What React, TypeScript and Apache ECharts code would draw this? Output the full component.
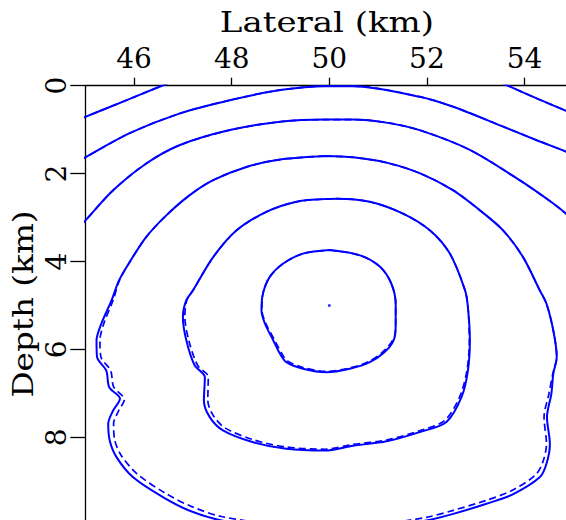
import React, { useEffect, useRef } from "react";
import * as echarts from "echarts";

const xTicks = [46, 48, 50, 52, 54];
const yTicks = [0, 2, 4, 6, 8];
const source = [[50.0, 5.0]];

// contour 1 (innermost)
const c1Solid = [
  [50.01, 3.74], [50.63, 3.86], [51.04, 4.12], [51.27, 4.5], [51.36, 4.96], [51.36, 5.41],
  [51.34, 5.72], [51.17, 6.02], [50.83, 6.29], [50.42, 6.44], [49.94, 6.52], [49.46, 6.44],
  [49.12, 6.29], [48.99, 6.1], [48.85, 5.79], [48.68, 5.41], [48.61, 5.11], [48.64, 4.73],
  [48.78, 4.35], [49.05, 4.05], [49.46, 3.82], [50.01, 3.74],
];
const c1Dashed = [
  [50.01, 3.74], [50.63, 3.86], [51.04, 4.12], [51.27, 4.5], [51.36, 4.96], [51.36, 5.41],
  [51.33, 5.72], [51.15, 6.0], [50.82, 6.27], [50.42, 6.42], [49.94, 6.5], [49.46, 6.41],
  [49.14, 6.26], [49.02, 6.08], [48.88, 5.79], [48.7, 5.41], [48.62, 5.11], [48.64, 4.73],
  [48.78, 4.35], [49.05, 4.05], [49.46, 3.82], [50.01, 3.74],
];

// contour 2
const c2Solid = [
  [49.91, 2.58], [50.15, 2.57], [50.83, 2.64], [51.51, 2.91], [52.06, 3.29], [52.47, 3.82],
  [52.78, 4.65], [52.84, 5.03], [52.88, 5.79], [52.84, 6.48], [52.71, 7.08], [52.4, 7.65],
  [51.85, 7.88], [51.17, 8.09], [50.49, 8.19], [49.91, 8.3], [49.12, 8.26], [48.44, 8.11],
  [47.82, 7.84], [47.55, 7.54], [47.43, 7.16], [47.45, 6.63], [47.24, 6.36], [47.07, 5.79],
  [47.0, 5.26], [47.07, 4.88], [47.21, 4.65], [47.62, 3.9], [48.1, 3.29], [48.71, 2.87],
  [49.33, 2.64], [49.91, 2.58],
];
const c2Dashed = [
  [49.91, 2.58], [50.15, 2.57], [50.83, 2.64], [51.51, 2.91], [52.06, 3.29], [52.47, 3.82],
  [52.78, 4.65], [52.84, 5.03], [52.87, 5.79], [52.82, 6.48], [52.67, 7.08], [52.36, 7.62],
  [51.85, 7.85], [51.17, 8.06], [50.49, 8.16], [49.91, 8.27], [49.12, 8.22], [48.46, 8.06],
  [47.87, 7.79], [47.62, 7.5], [47.51, 7.16], [47.52, 6.63], [47.3, 6.36], [47.12, 5.79],
  [47.04, 5.26], [47.08, 4.88], [47.21, 4.65], [47.62, 3.9], [48.1, 3.29], [48.71, 2.87],
  [49.33, 2.64], [49.91, 2.58],
];

// contour 3 (outer closed, cut by the bottom edge)
const c3Solid = [
  [49.91, 1.6], [50.49, 1.63], [51.17, 1.75], [51.85, 1.99], [52.54, 2.38], [53.08, 2.83],
  [53.56, 3.29], [53.97, 3.9], [54.31, 4.65], [54.45, 4.96], [54.59, 5.57], [54.66, 6.17],
  [54.59, 6.55], [54.55, 7.01], [54.46, 7.54], [54.52, 8.15], [54.45, 8.6], [54.31, 8.91],
  [53.77, 9.29], [53.22, 9.51], [52.54, 9.74], [51.99, 9.89], [51.0, 10.06], [50.0, 10.12],
  [49.0, 10.08], [47.79, 9.89], [47.14, 9.67], [46.59, 9.36], [45.98, 8.91], [45.64, 8.45],
  [45.5, 8.07], [45.47, 7.69], [45.57, 7.39], [45.71, 7.12], [45.49, 6.86], [45.43, 6.48],
  [45.24, 6.17], [45.23, 5.79], [45.33, 5.41], [45.54, 4.88], [45.69, 4.43], [45.91, 4.01],
  [46.25, 3.44], [46.66, 2.95], [47.14, 2.49], [47.62, 2.15], [48.3, 1.85], [48.99, 1.68],
  [49.91, 1.6],
];
const c3Dashed = [
  [49.91, 1.6], [50.49, 1.63], [51.17, 1.75], [51.85, 1.99], [52.54, 2.38], [53.08, 2.83],
  [53.56, 3.29], [53.97, 3.9], [54.31, 4.65], [54.45, 4.96], [54.59, 5.57], [54.66, 6.17],
  [54.58, 6.55], [54.5, 7.01], [54.4, 7.54], [54.45, 8.15], [54.37, 8.58], [54.22, 8.86],
  [53.74, 9.21], [53.2, 9.44], [52.54, 9.66], [51.99, 9.82], [51.0, 9.98], [50.0, 10.05],
  [49.0, 10.0], [47.79, 9.8], [47.17, 9.57], [46.64, 9.27], [46.06, 8.83], [45.73, 8.4],
  [45.6, 8.05], [45.58, 7.69], [45.68, 7.4], [45.8, 7.14], [45.58, 6.85], [45.52, 6.48],
  [45.32, 6.17], [45.3, 5.79], [45.38, 5.41], [45.57, 4.88], [45.7, 4.43], [45.91, 4.01],
  [46.25, 3.44], [46.66, 2.95], [47.14, 2.49], [47.62, 2.15], [48.3, 1.85], [48.99, 1.68],
  [49.91, 1.6],
];

// contour 4
const c4 = [
  [44.9, 3.19], [45.0, 3.07], [45.57, 2.38], [46.25, 1.77], [46.94, 1.35], [47.96, 1.01],
  [48.99, 0.82], [49.91, 0.77], [50.49, 0.77], [51.17, 0.84], [51.85, 1.01], [52.88, 1.46],
  [53.9, 2.15], [54.59, 2.68], [54.85, 2.91], [55.1, 3.15],
];
// contour 5
const c5 = [
  [44.9, 1.7], [45.0, 1.63], [45.91, 1.08], [46.94, 0.63], [47.96, 0.33], [48.99, 0.1],
  [49.91, 0.01], [50.49, 0.01], [51.85, 0.25], [52.54, 0.48], [53.56, 0.93], [54.25, 1.24],
  [54.85, 1.5], [55.1, 1.62],
];
// contour 6 (corner pieces)
const c6Left = [[44.9, 0.76], [45.0, 0.71], [45.8, 0.35], [46.57, 0.0], [46.8, -0.1]];
const c6Right = [[53.4, -0.12], [53.66, 0.0], [54.25, 0.29], [54.85, 0.57], [55.1, 0.69]];

const BLUE = "#0000ff";
const FONT = '"DejaVu Serif", serif';

function solid(data: number[][]) {
  return {
    type: "line",
    data,
    showSymbol: false,
    symbol: "none",
    smooth: 0.3,
    clip: true,
    z: 3,
    lineStyle: { color: BLUE, width: 2 },
  };
}
function dashed(data: number[][]) {
  return {
    type: "line",
    data,
    showSymbol: false,
    symbol: "none",
    smooth: 0.3,
    clip: true,
    z: 2,
    lineStyle: { color: BLUE, width: 1.7, type: [7, 4] },
  };
}

export default function App() {
  const ref = useRef<HTMLDivElement>(null);
  useEffect(() => {
    if (!ref.current) return;
    const chart = echarts.init(ref.current, undefined, { renderer: "svg" });
    chart.setOption({
      animation: false,
      backgroundColor: "#fff",
      grid: { left: 85.3, top: 85.7, right: 0, bottom: 0, containLabel: false },
      xAxis: {
        type: "value",
        position: "top",
        min: 45,
        max: 54.85,
        axisLine: { show: true, onZero: false, lineStyle: { color: "#000", width: 1.3 } },
        axisTick: { show: true, inside: false, length: 8, customValues: xTicks, lineStyle: { color: "#000", width: 1.3 } },
        axisLabel: { customValues: xTicks, margin: 13, fontSize: 28, fontFamily: FONT, color: "#000" },
        splitLine: { show: false },
      },
      yAxis: {
        type: "value",
        inverse: true,
        min: 0,
        max: 9.88,
        axisLine: { show: true, onZero: false, lineStyle: { color: "#000", width: 1.3 } },
        axisTick: { show: true, inside: false, length: 15, customValues: yTicks, lineStyle: { color: "#000", width: 1.3 } },
        axisLabel: { customValues: yTicks, rotate: 90, margin: 15, fontSize: 28, fontFamily: FONT, color: "#000" },
        splitLine: { show: false },
      },
      graphic: [
        {
          type: "text",
          x: 327,
          y: 22,
          scaleX: 1.26,
          style: { text: "Lateral (km)", font: `27px ${FONT}`, fill: "#000", align: "center", verticalAlign: "middle" },
        },
        {
          type: "text",
          x: 24,
          y: 304,
          rotation: Math.PI / 2,
          scaleX: 1.21,
          style: { text: "Depth (km)", font: `27px ${FONT}`, fill: "#000", align: "center", verticalAlign: "middle" },
        },
      ],
      series: [
        dashed(c1Dashed), dashed(c2Dashed), dashed(c3Dashed), dashed(c4), dashed(c5), dashed(c6Left), dashed(c6Right),
        solid(c1Solid), solid(c2Solid), solid(c3Solid), solid(c4), solid(c5), solid(c6Left), solid(c6Right),
        {
          type: "scatter",
          data: source,
          symbolSize: 3,
          itemStyle: { color: BLUE },
          z: 4,
        },
      ],
    });
    return () => chart.dispose();
  }, []);
  return (
    <div
      ref={ref}
      style={{ position: "fixed", left: 0, top: 0, width: 566, height: 520, background: "#fff" }}
    />
  );
}
